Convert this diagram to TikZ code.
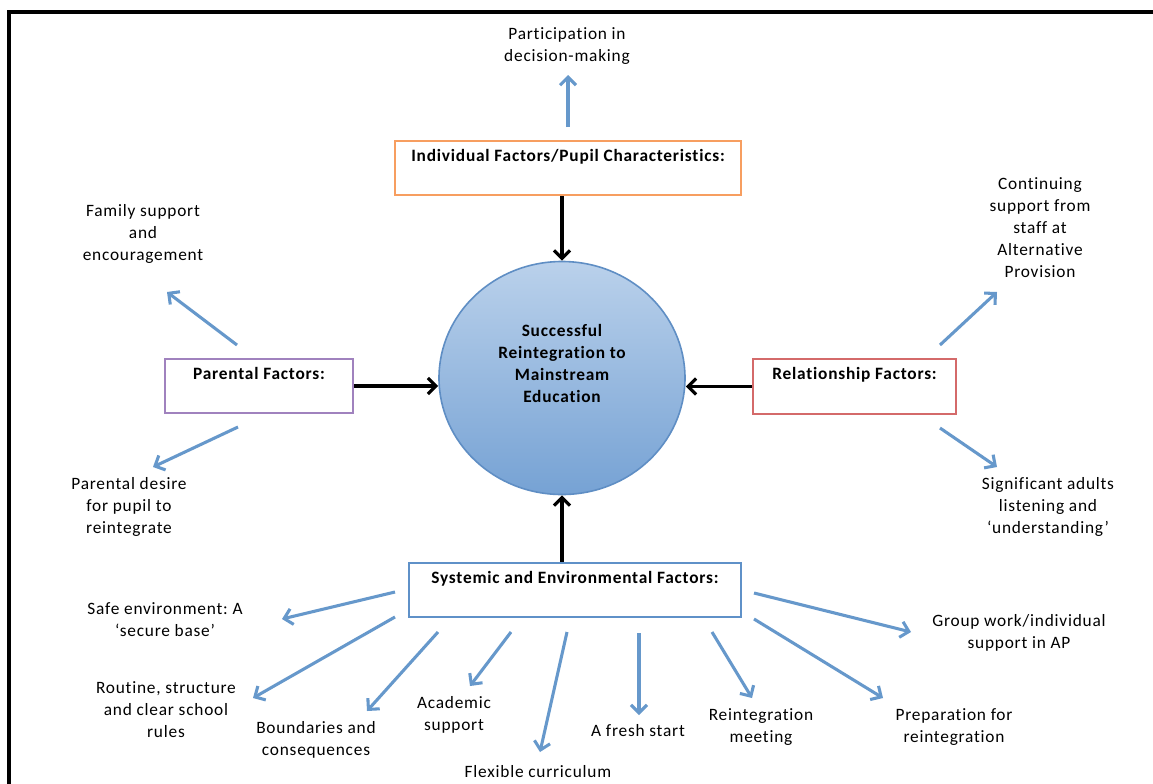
\documentclass[tikz,border=0pt]{standalone}
\usepackage{fontspec}
\setmainfont{Carlito}[LetterSpace=4.5,Ligatures={NoCommon}]
\usetikzlibrary{arrows.meta,shapes.geometric}
\definecolor{orangeb}{RGB}{247,158,96}
\definecolor{purpleb}{RGB}{160,130,190}
\definecolor{redb}{RGB}{212,106,106}
\definecolor{blueb}{RGB}{95,145,200}
\definecolor{arrowblue}{RGB}{102,152,203}
\definecolor{circtop}{RGB}{186,209,235}
\definecolor{circbot}{RGB}{118,162,212}
\definecolor{circline}{RGB}{95,142,196}
\begin{document}
\frenchspacing
\begin{tikzpicture}[x=0.75pt,y=-0.75pt,
  txt/.style={font=\fontsize{13}{16.5}\selectfont},
  lbl/.style={txt, align=center, inner sep=0pt},
  box/.style={draw, line width=1.9pt, fill=white, inner sep=0pt, align=center,
    font=\fontsize{13}{16.5}\selectfont\bfseries},
  goalstyle/.style={ellipse, draw=circline, line width=1.2pt, top color=circtop, bottom color=circbot,
    inner sep=0pt, align=center, minimum width=246*0.75pt, minimum height=233*0.75pt,
    font=\fontsize{13}{16.5}\selectfont\bfseries},
  barrow/.style={draw=arrowblue, line width=2.3pt, -{Straight Barb[length=6pt,width=12pt]}},
  karrow/.style={draw=black, line width=2.4pt, -{Straight Barb[length=6pt,width=12pt]}}
]
\useasboundingbox (0,0) rectangle (1153,783);
\clip (0,0) rectangle (1153,783);
\fill[white] (0,0) rectangle (1153,783);
\draw[line width=3pt] (9,12) rectangle (1180,810);

% central node
\node[goalstyle] (goal) at (562,378) {Successful\\Reintegration to\\Mainstream\\Education\\\strut};

% factor boxes
\node[box, draw=orangeb, minimum width=346*0.75pt, minimum height=54*0.75pt] (ind) at (568,168)
  {\strut Individual Factors/Pupil Characteristics:\\\strut};
\node[box, draw=purpleb, minimum width=188*0.75pt, minimum height=54*0.75pt] (par) at (259,386)
  {\strut Parental Factors:\\\strut};
\node[box, draw=redb, minimum width=203*0.75pt, minimum height=55*0.75pt] (rel) at (854.5,386.5)
  {\strut Relationship Factors:\\\strut};
\node[box, draw=blueb, minimum width=332*0.75pt, minimum height=54*0.75pt] (sys) at (575,590)
  {\strut Systemic and Environmental Factors:\\\strut};

% black arrows to the centre
\draw[karrow] (ind.south -| goal.north) -- (goal.north);
\draw[karrow] (sys.north -| goal.south) -- (goal.south);
\draw[karrow] (par.east) -- (par.east -| goal.west);
\draw[karrow] (rel.west) -- (rel.west -| goal.east);

% outer labels
\node[lbl] (part) at (567,46) {Participation in\\decision-making};
\node[lbl] (fam) at (143,234) {Family support\\and\\encouragement};
\node[lbl] (pdes) at (129,507) {Parental desire\\for pupil to\\reintegrate};
\node[lbl] (cont) at (1040,228) {Continuing\\support from\\staff at\\Alternative\\Provision};
\node[lbl] (sig) at (1048,507) {Significant adults\\listening and\\‘understanding’};
\node[lbl] (safe) at (165,620) {Safe environment: A\\‘secure base’};
\node[lbl] (rout) at (166,710) {Routine, structure\\and clear school\\rules};
\node[lbl] (bound) at (316,740) {Boundaries and\\consequences};
\node[lbl] (acad) at (454,715) {Academic\\support};
\node[lbl] (flex) at (538,772) {Flexible curriculum};
\node[lbl] (fresh) at (638,731) {A fresh start};
\node[lbl] (meet) at (761,727) {Reintegration\\meeting};
\node[lbl] (prep) at (954,727) {Preparation for\\reintegration};
\node[lbl] (group) at (1019,633) {Group work/individual\\support in AP};

% arrow end points
\coordinate (partT) at (568,127);  \coordinate (partH) at (568,75);
\coordinate (famT) at (237,345);   \coordinate (famH) at (167,292);
\coordinate (pdesT) at (238,427);  \coordinate (pdesH) at (153,467);
\coordinate (contT) at (940,345);  \coordinate (contH) at (997,292);
\coordinate (sigT) at (940,428);   \coordinate (sigH) at (997,467);
\coordinate (safeT) at (395,592);  \coordinate (safeH) at (282,619);
\coordinate (routT) at (395,617);  \coordinate (routH) at (253,698);
\coordinate (boundT) at (438,632); \coordinate (boundH) at (367,711);
\coordinate (acadT) at (511,632);  \coordinate (acadH) at (470,686);
\coordinate (flexT) at (567,632);  \coordinate (flexH) at (540,752);
\coordinate (freshT) at (639,633); \coordinate (freshH) at (639,715);
\coordinate (meetT) at (712,632);  \coordinate (meetH) at (752,698);
\coordinate (prepT) at (754,619);  \coordinate (prepH) at (883,698);
\coordinate (groupT) at (754,593); \coordinate (groupH) at (911,632);

% blue arrows
\foreach \n in {part,fam,pdes,cont,sig,safe,rout,bound,acad,flex,fresh,meet,prep,group}
  \draw[barrow] (\n T) -- (\n H);
\end{tikzpicture}
\end{document}
